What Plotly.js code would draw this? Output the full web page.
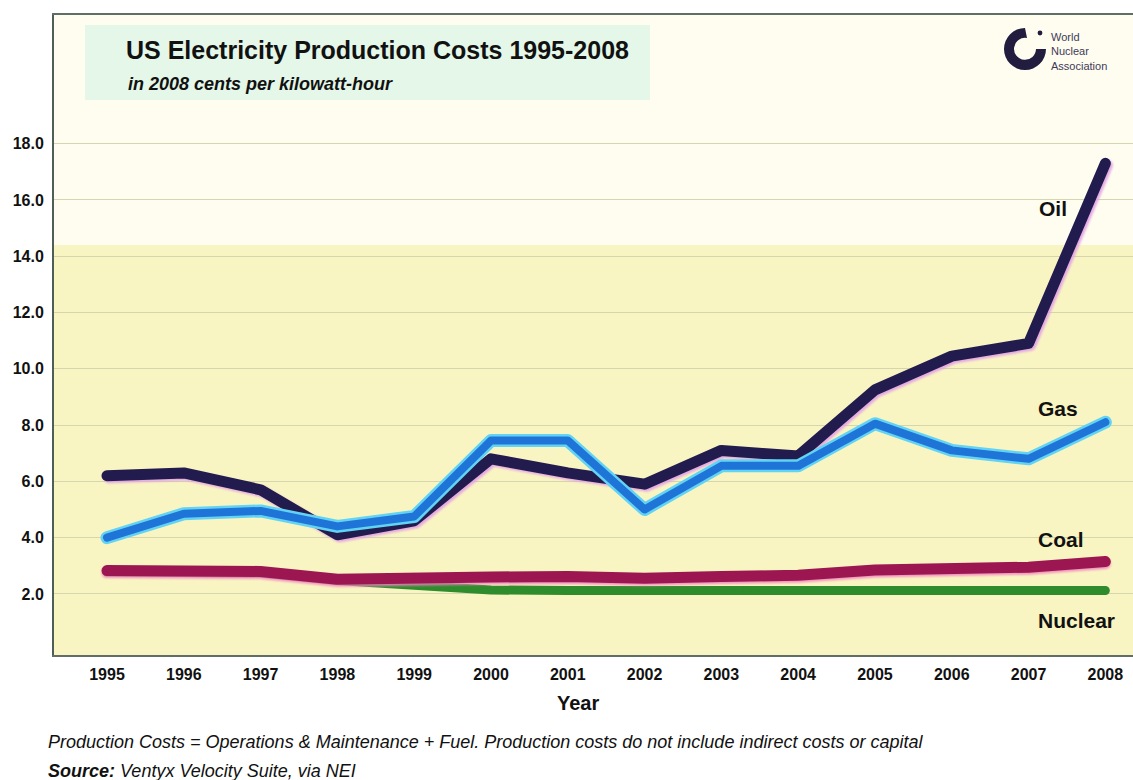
<!DOCTYPE html>
<html>
<head>
<meta charset="utf-8">
<script src="https://cdn.plot.ly/plotly-3.0.1.min.js"></script>
<style>
  html, body { margin: 0; padding: 0; background: #ffffff; }
  #chart { width: 1133px; height: 780px; }
  .scatterlayer path.js-line { stroke-linecap: round; stroke-linejoin: round; }
  .scatterlayer .trace:nth-child(2) path.js-line { filter: drop-shadow(0px 2px 1px rgba(240,130,190,0.85)); }
  .scatterlayer .trace:nth-child(3) path.js-line { filter: drop-shadow(2px 2px 1px rgba(226,160,230,0.9)); }
</style>
</head>
<body>
<div id="chart"></div>
<script>
// Production cost, 2008 cents per kilowatt-hour
const years   = [1995, 1996, 1997, 1998, 1999, 2000, 2001, 2002, 2003, 2004, 2005, 2006, 2007, 2008];
const oil     = [6.2, 6.3, 5.7, 4.1, 4.6, 6.8, 6.3, 5.9, 7.1, 6.9, 9.25, 10.45, 10.9, 17.3];
const gas     = [4.0, 4.85, 4.95, 4.4, 4.75, 7.45, 7.45, 5.0, 6.55, 6.55, 8.05, 7.1, 6.8, 8.1];
const coal    = [2.83, 2.8, 2.8, 2.52, 2.6, 2.6, 2.62, 2.56, 2.62, 2.66, 2.85, 2.9, 2.95, 3.15];
const nuclear = [2.78, 2.76, 2.74, 2.48, 2.3, 2.14, 2.12, 2.1, 2.1, 2.1, 2.12, 2.12, 2.12, 2.12];

const yTicks = [2, 4, 6, 8, 10, 12, 14, 16, 18];
const yTickText = yTicks.map(v => v.toFixed(1));
const seriesLabels = ['Oil', 'Gas', 'Coal', 'Nuclear'];

const FONT = '"Liberation Sans", Arial, sans-serif';

const traces = [
  { x: years, y: nuclear, mode: 'lines', line: { color: '#2e8c2c', width: 9 }, hoverinfo: 'skip' },
  { x: years, y: coal, mode: 'lines', line: { color: '#9c1752', width: 11 }, hoverinfo: 'skip' },
  { x: years, y: oil, mode: 'lines', line: { color: '#221c4e', width: 11 }, hoverinfo: 'skip' },
  { x: years, y: gas, mode: 'lines', line: { color: '#63d3f3', width: 13 }, hoverinfo: 'skip' },
  { x: years, y: gas, mode: 'lines', line: { color: '#1f74d8', width: 8 }, hoverinfo: 'skip' }
];

// series name labels beside the right end of each line
const labelPos = [
  { x: 2007.32, y: 15.7 },
  { x: 2007.38, y: 8.6 },
  { x: 2007.42, y: 3.95 },
  { x: 2007.62, y: 1.05 }
];
const seriesAnn = seriesLabels.map((t, i) => ({
  text: '<b>' + t + '</b>', x: labelPos[i].x, y: labelPos[i].y, xref: 'x', yref: 'y',
  showarrow: false, xanchor: 'center', yanchor: 'middle',
  font: { family: FONT, size: 21, color: '#111111' }
}));

const px = v => (v - 54) / 1079;      // page x -> paper x
const py = v => (655 - v) / 640;      // page y -> paper y

const annotations = seriesAnn.concat([
  { text: '<b>US Electricity Production Costs 1995-2008</b>', x: px(124), y: py(50), xref: 'paper', yref: 'paper',
    xanchor: 'left', yanchor: 'middle', showarrow: false,
    font: { family: FONT, size: 25, color: '#111111' } },
  { text: '<b><i>in 2008 cents per kilowatt-hour</i></b>', x: px(126), y: py(84), xref: 'paper', yref: 'paper',
    xanchor: 'left', yanchor: 'middle', showarrow: false,
    font: { family: FONT, size: 18, color: '#111111' } },
  { text: 'World<br>Nuclear<br>Association', x: px(1049), y: py(51), xref: 'paper', yref: 'paper',
    xanchor: 'left', yanchor: 'middle', align: 'left', showarrow: false,
    font: { family: FONT, size: 11, color: '#3f3a58' } },
  { text: '<b>Year</b>', x: px(578), y: py(703), xref: 'paper', yref: 'paper',
    xanchor: 'center', yanchor: 'middle', showarrow: false,
    font: { family: FONT, size: 20, color: '#111111' } },
  { text: '<i>Production Costs = Operations &amp; Maintenance + Fuel. Production costs do not include indirect costs or capital</i>',
    x: px(46), y: py(742), xref: 'paper', yref: 'paper', xanchor: 'left', yanchor: 'middle', showarrow: false,
    font: { family: FONT, size: 18, color: '#111111' } },
  { text: '<b><i>Source:</i></b><i> Ventyx Velocity Suite, via NEI</i>',
    x: px(46), y: py(771), xref: 'paper', yref: 'paper', xanchor: 'left', yanchor: 'middle', showarrow: false,
    font: { family: FONT, size: 18, color: '#111111' } }
]);

const logoSvg =
  '<svg xmlns="http://www.w3.org/2000/svg" viewBox="0 0 44 44">' +
  '<path d="M 22 1 A 21 21 0 1 0 43 22 L 33 22 A 11 11 0 1 1 24 11 Z" fill="#221c3e"/>' +
  '<circle cx="37" cy="6" r="2.4" fill="#221c3e"/>' +
  '</svg>';

const layout = {
  width: 1133, height: 780,
  margin: { l: 54, r: 0, t: 15, b: 125 },
  paper_bgcolor: '#ffffff',
  plot_bgcolor: '#f9f5c2',
  showlegend: false,
  xaxis: {
    range: [1994.31, 2008.36],
    tickvals: years, ticktext: years.map(String),
    showgrid: false, zeroline: false,
    showline: true, mirror: true, linecolor: '#5f6e66', linewidth: 2,
    ticks: '', ticklabelstandoff: 4,
    tickfont: { family: FONT, size: 16, color: '#111111', weight: 'bold' }
  },
  yaxis: {
    range: [-0.17, 22.57],
    tickvals: yTicks, ticktext: yTickText,
    showgrid: true, gridcolor: '#d6d6ae', gridwidth: 1,
    zeroline: false,
    showline: true, linecolor: '#4f5f57', linewidth: 2,
    ticks: '', ticklabelstandoff: 5,
    tickfont: { family: FONT, size: 16, color: '#111111', weight: 'bold' }
  },
  shapes: [
    { type: 'rect', layer: 'below', xref: 'paper', yref: 'y', x0: 0, x1: 1, y0: 14.4, y1: 22.57,
      fillcolor: '#fefdf0', line: { width: 0 } },
    { type: 'rect', layer: 'below', xref: 'paper', yref: 'paper', x0: px(85), x1: px(650), y0: py(100), y1: py(25),
      fillcolor: 'rgba(205,242,226,0.55)', line: { width: 0 } }
  ],
  images: [
    { source: 'data:image/svg+xml;charset=utf-8,' + encodeURIComponent(logoSvg),
      xref: 'paper', yref: 'paper', x: px(1003), y: py(27), sizex: 44 / 1079, sizey: 44 / 640,
      xanchor: 'left', yanchor: 'top', sizing: 'stretch', layer: 'above' }
  ],
  annotations: annotations
};

Plotly.newPlot('chart', traces, layout, { displayModeBar: false, staticPlot: true });
</script>
</body>
</html>
